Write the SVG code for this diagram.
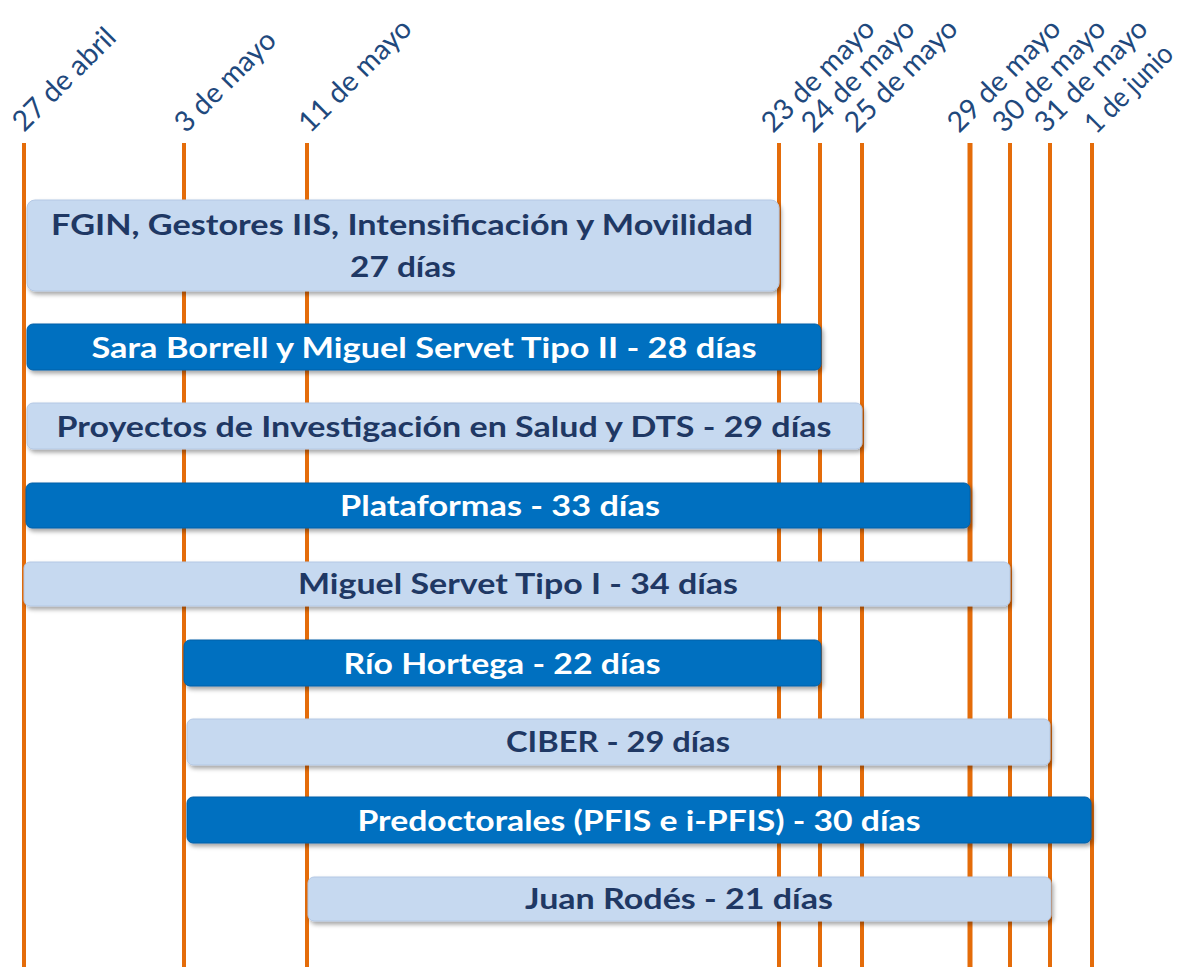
<svg xmlns="http://www.w3.org/2000/svg" width="1188" height="967" viewBox="0 0 1188 967">
<style>
.vl{stroke:#E46C0A;stroke-width:4;fill:none}
.date{font-family:Lato,"Open Sans","Liberation Sans",sans-serif;font-size:28.5px;fill:#1F497D}
.lb{fill:#C6D9F0;stroke:#B4C8E4;stroke-width:1;filter:url(#sh)}
.db{fill:#0070C0;stroke:#005FA8;stroke-width:1;filter:url(#sh)}
.t{font-family:Lato,"Open Sans","Liberation Sans",sans-serif;font-size:28px;font-weight:bold;text-anchor:middle}
.tl{fill:#1F3864}
.tw{fill:#FFFFFF}
</style>
<defs>
<filter id="sh" x="-5%" y="-30%" width="110%" height="170%">
<feDropShadow dx="2" dy="3" stdDeviation="2" flood-color="#000" flood-opacity="0.35"/>
</filter>
</defs>
<rect width="1188" height="967" fill="#FFFFFF"/>
<g id="gridlines">
<line class="vl" x1="24" y1="143" x2="24" y2="967"/>
<line class="vl" x1="184" y1="143" x2="184" y2="967"/>
<line class="vl" x1="307" y1="143" x2="307" y2="967"/>
<line class="vl" x1="779" y1="143" x2="779" y2="967"/>
<line class="vl" x1="820" y1="143" x2="820" y2="967"/>
<line class="vl" x1="862" y1="143" x2="862" y2="967"/>
<line class="vl" x1="970" y1="143" x2="970" y2="967" style="stroke-width:5"/>
<line class="vl" x1="1010" y1="143" x2="1010" y2="967"/>
<line class="vl" x1="1050" y1="143" x2="1050" y2="967"/>
<line class="vl" x1="1092" y1="143" x2="1092" y2="967"/>
</g>
<g id="dates">
<text class="date" transform="translate(24,133) rotate(-45)">27 de abril</text>
<text class="date" transform="translate(186,134) rotate(-45)">3 de mayo</text>
<text class="date" transform="translate(310,134) rotate(-45)">11 de mayo</text>
<text class="date" transform="translate(773,134) rotate(-45)">23 de mayo</text>
<text class="date" transform="translate(813,134) rotate(-45)">24 de mayo</text>
<text class="date" transform="translate(856,134) rotate(-45)">25 de mayo</text>
<text class="date" transform="translate(959,134) rotate(-45)">29 de mayo</text>
<text class="date" transform="translate(1004,134) rotate(-45)">30 de mayo</text>
<text class="date" transform="translate(1046,134) rotate(-45)">31 de mayo</text>
<text class="date" transform="translate(1096,135) rotate(-45)" textLength="112" lengthAdjust="spacingAndGlyphs">1 de junio</text>
</g>
<g id="bar1">
<rect class="lb" x="27" y="200" width="752" height="91" rx="8"/>
<text class="t tl" x="402" y="235" textLength="702" lengthAdjust="spacingAndGlyphs">FGIN, Gestores IIS, Intensificación y Movilidad</text>
<text class="t tl" x="403" y="277" textLength="106" lengthAdjust="spacingAndGlyphs">27 días</text>
</g>
<g id="bar2">
<rect class="db" x="27" y="324" width="794" height="46" rx="6"/>
<text class="t tw" x="424" y="358" textLength="665" lengthAdjust="spacingAndGlyphs">Sara Borrell y Miguel Servet Tipo II - 28 días</text>
</g>
<g id="bar3">
<rect class="lb" x="27" y="403" width="835" height="46" rx="6"/>
<text class="t tl" x="444" y="437" textLength="775" lengthAdjust="spacingAndGlyphs">Proyectos de Investigación en Salud y DTS - 29 días</text>
</g>
<g id="bar4">
<rect class="db" x="26" y="483" width="944" height="45" rx="6"/>
<text class="t tw" x="500" y="516" textLength="320" lengthAdjust="spacingAndGlyphs">Plataformas - 33 días</text>
</g>
<g id="bar5">
<rect class="lb" x="24" y="562" width="986" height="44" rx="6"/>
<text class="t tl" x="518" y="594" textLength="440" lengthAdjust="spacingAndGlyphs">Miguel Servet Tipo I - 34 días</text>
</g>
<g id="bar6">
<rect class="db" x="184" y="640" width="637" height="46" rx="6"/>
<text class="t tw" x="502" y="674" textLength="317" lengthAdjust="spacingAndGlyphs">Río Hortega - 22 días</text>
</g>
<g id="bar7">
<rect class="lb" x="187" y="719" width="863" height="46" rx="6"/>
<text class="t tl" x="618" y="752" textLength="224" lengthAdjust="spacingAndGlyphs">CIBER - 29 días</text>
</g>
<g id="bar8">
<rect class="db" x="187" y="797" width="904" height="46" rx="6"/>
<text class="t tw" x="639" y="831" textLength="563" lengthAdjust="spacingAndGlyphs">Predoctorales (PFIS e i-PFIS) - 30 días</text>
</g>
<g id="bar9">
<rect class="lb" x="308" y="877" width="743" height="44" rx="6"/>
<text class="t tl" x="679" y="909" textLength="308" lengthAdjust="spacingAndGlyphs">Juan Rodés - 21 días</text>
</g>
</svg>
